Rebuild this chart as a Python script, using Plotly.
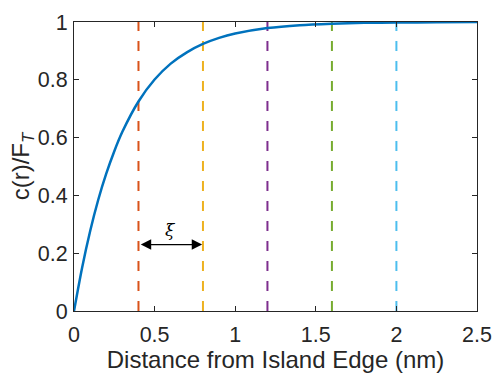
import plotly.graph_objects as go

# Curve data
r_vals = [0, 0.05, 0.1, 0.15, 0.2, 0.25, 0.3, 0.4, 0.5, 0.6, 0.7, 0.8, 0.9, 1.0,
          1.2, 1.4, 1.6, 1.8, 2.0, 2.25, 2.5]
c_vals = [0, 0.149, 0.276, 0.384, 0.475, 0.553, 0.620, 0.725, 0.801, 0.856, 0.895,
          0.924, 0.945, 0.960, 0.979, 0.989, 0.994, 0.997, 0.998, 0.999, 1.0]

# Vertical dashed markers
marker_x = [0.4, 0.8, 1.2, 1.6, 2.0]
marker_colors = ["#D95319", "#EDB120", "#7E2F8E", "#77AC30", "#4DBEEE"]

# Arrow / label
arrow_x = [0.4, 0.8]
arrow_y = 0.23
xi_label = "ξ"

x_ticks = [0, 0.5, 1, 1.5, 2, 2.5]
y_ticks = [0, 0.2, 0.4, 0.6, 0.8, 1]

TXT = "#262626"
FONT = "Liberation Sans"

fig = go.Figure()
for xv, col in zip(marker_x, marker_colors):
    fig.add_trace(go.Scatter(x=[xv, xv], y=[0, 1], mode="lines",
                             line=dict(color=col, width=2, dash="10px,10px"),
                             showlegend=False, hoverinfo="skip"))

fig.add_trace(go.Scatter(x=r_vals, y=c_vals, mode="lines",
                         line=dict(color="#0072BD", width=2.5, shape="spline", smoothing=0.8),
                         showlegend=False))

fig.add_annotation(x=arrow_x[1] - 0.005, y=arrow_y, ax=arrow_x[0] + 0.005, ay=arrow_y,
                   xref="x", yref="y", axref="x", ayref="y",
                   text="", showarrow=True, arrowhead=2, startarrowhead=2,
                   arrowside="end+start", arrowwidth=1.3, arrowsize=1.6, startarrowsize=1.6,
                   arrowcolor="#000000")
fig.add_annotation(x=(arrow_x[0] + arrow_x[1]) / 2, y=arrow_y + 0.05, xref="x", yref="y",
                   text="<i>" + xi_label + "</i>", showarrow=False,
                   font=dict(family="DejaVu Serif", size=17, color="#000000"))

axis_common = dict(showgrid=False, zeroline=False, showline=True, linecolor=TXT,
                   linewidth=1.2, mirror="ticks", ticks="inside", ticklen=5,
                   tickcolor=TXT, tickwidth=1, automargin=False,
                   tickfont=dict(family=FONT, size=21.5, color=TXT))

fig.update_layout(
    width=496, height=373,
    margin=dict(l=74, r=19, t=22, b=62),
    plot_bgcolor="white", paper_bgcolor="white",
    xaxis=dict(range=[0, 2.5], tickvals=x_ticks, ticktext=[str(t) for t in x_ticks],
               ticklabelstandoff=4,
               title=dict(text="Distance from Island Edge (nm)", standoff=4,
                          font=dict(family=FONT, size=24, color=TXT)),
               **axis_common),
    yaxis=dict(range=[0, 1], tickvals=y_ticks, ticktext=[("%g" % t) for t in y_ticks],
               ticklabelstandoff=1,
               title=dict(text="c(r)/F<sub><i>T</i></sub>", standoff=0,
                          font=dict(family=FONT, size=24, color=TXT)),
               **axis_common),
)

fig.write_html("out.html")
